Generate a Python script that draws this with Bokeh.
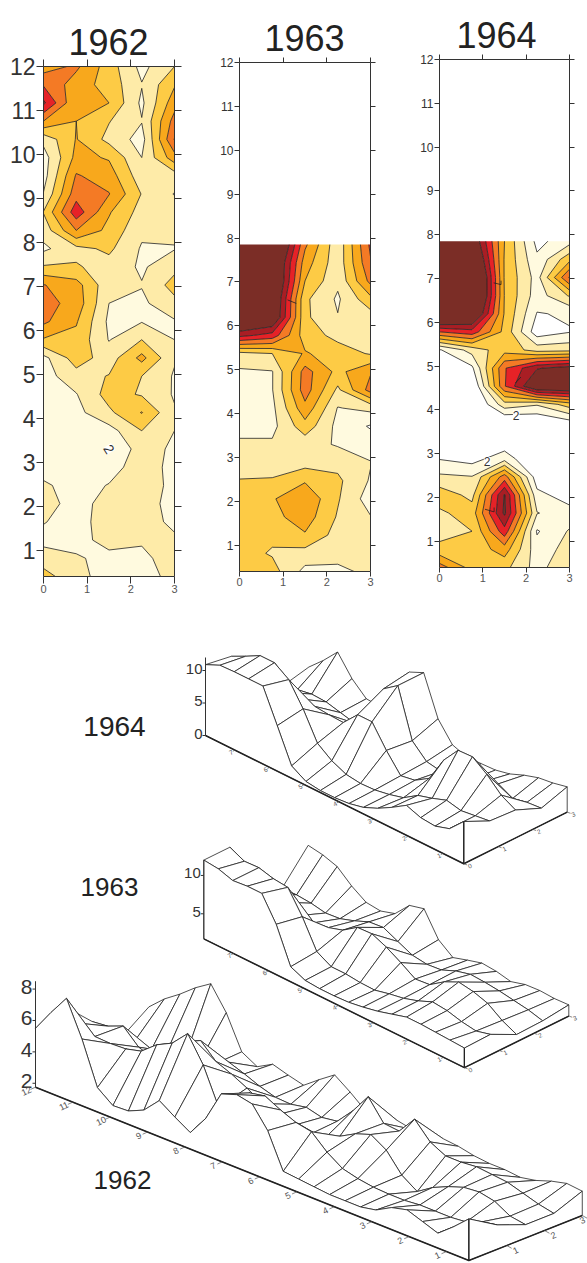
import numpy as np
from bokeh.embed import file_html
from bokeh.resources import INLINE
from bokeh.plotting import figure
from bokeh.layouts import column, row
from bokeh.models import LinearAxis, FixedTicker, Range1d, Label, Title
from bokeh.core.properties import value

X_GRID = [0, 0.75, 1.5, 2.25, 3]
Y_1962 = [0.4, 0.814, 1.229, 1.643, 2.057, 2.471, 2.886, 3.3, 3.714, 4.129, 4.543, 4.957, 5.371, 5.786, 6.2,
          6.614, 7.029, 7.443, 7.857, 8.271, 8.686, 9.1, 9.514, 9.929, 10.343, 10.757, 11.171, 11.586, 12.0]
Y_1963 = [0.4, 0.814, 1.228, 1.642, 2.056, 2.469, 2.883, 3.297, 3.711, 4.125, 4.539, 4.953, 5.367, 5.781,
          6.194, 6.608, 7.022, 7.436, 7.85]
Y_1964 = Y_1963

Z_1962 = [
    [4.4, 3.3, 2.6, 2.6, 3.3], [3.5, 3.1, 2.75, 2.8, 3.4], [2.7, 2.7, 3.3, 3.1, 3.15], [3.05, 2.6, 3.5, 3.4, 2.8],
    [3.4, 2.6, 3.4, 3.5, 2.6], [3.15, 2.6, 3.05, 3.6, 2.7], [2.6, 2.5, 2.6, 3.5, 2.7], [2.4, 2.5, 1.95, 3.5, 2.8],
    [2.4, 2.55, 2.6, 4.0, 3.0], [2.4, 2.7, 3.8, 5.05, 3.1], [2.5, 2.95, 4.4, 3.9, 2.9], [2.6, 3.6, 4.05, 4.0, 2.9],
    [2.7, 4.5, 3.5, 5.3, 3.1], [4.9, 4.7, 2.95, 4.0, 3.0], [6.2, 5.1, 2.8, 2.95, 2.9], [6.4, 5.6, 3.0, 2.8, 3.7],
    [6.05, 5.4, 3.3, 3.05, 4.4], [4.1, 4.1, 3.6, 2.85, 3.7], [2.8, 3.7, 4.2, 2.9, 2.95], [3.4, 6.0, 4.7, 3.2, 3.2],
    [4.05, 7.6, 5.1, 3.6, 3.5], [3.05, 6.6, 6.05, 3.95, 2.95], [2.6, 6.1, 5.5, 3.4, 3.5], [2.55, 5.3, 4.9, 3.0, 5.6],
    [3.3, 5.05, 3.7, 2.6, 7.05], [6.0, 5.0, 4.05, 3.05, 6.4], [8.2, 5.05, 5.0, 2.8, 5.6], [6.9, 5.5, 4.6, 3.05, 4.9],
    [5.5, 6.2, 4.5, 2.7, 4.0],
]
Z_1963 = [
    [4.3, 4.4, 2.7, 2.8, 3.2], [4.4, 3.9, 3.6, 3.3, 3.1], [4.5, 4.2, 4.9, 3.6, 3.2], [4.6, 4.7, 5.5, 3.9, 3.05],
    [4.6, 4.9, 5.8, 4.1, 2.5], [4.05, 4.1, 4.9, 4.2, 2.9], [3.5, 3.5, 3.6, 3.7, 3.05], [3.1, 3.15, 3.4, 2.9, 2.5],
    [2.8, 2.7, 4.6, 2.7, 1.9], [2.7, 2.75, 5.7, 2.95, 3.3], [2.7, 2.95, 6.5, 3.8, 6.4], [2.85, 2.95, 6.4, 4.7, 5.9],
    [3.7, 4.0, 5.1, 4.5, 3.9], [8.3, 7.6, 4.5, 3.7, 3.3], [11.4, 10.5, 4.2, 3.05, 3.5], [11.4, 10.7, 4.2, 2.85, 4.7],
    [11.2, 11.2, 5.0, 3.2, 6.3], [11.8, 11.1, 5.5, 3.35, 6.9], [12.0, 12.0, 6.2, 3.3, 7.2],
]
Z_1964 = [
    [6.5, 4.6, 4.3, 2.6, 3.9], [4.3, 4.3, 5.5, 2.4, 3.4], [3.6, 4.0, 7.6, 1.9, 3.1], [3.8, 4.5, 9.2, 3.05, 2.4],
    [4.6, 3.7, 9.1, 2.3, 1.5], [3.2, 3.05, 6.5, 1.4, 1.0], [1.95, 1.6, 2.6, 0.8, 0.9], [1.0, 1.0, 1.2, 0.6, 0.8],
    [0.5, 0.6, 0.8, 1.0, 1.6], [0.3, 0.5, 3.6, 3.1, 4.5], [0.3, 0.8, 6.9, 10.5, 10.5], [0.6, 1.8, 6.9, 8.9, 9.5],
    [1.9, 3.4, 4.6, 3.6, 3.7], [7.0, 7.6, 4.7, 1.4, 1.95], [12.0, 11.0, 4.9, 1.95, 2.1], [12.0, 12.5, 4.95, 2.5, 4.1],
    [12.0, 12.5, 4.9, 2.6, 7.1], [11.9, 11.3, 4.9, 2.2, 4.7], [10.9, 10.2, 5.0, 1.7, 2.6],
]

LEVELS = [2, 3, 4, 5, 6, 7, 8, 9, 20]
COLORS = ["#FFFADF", "#FEEBA8", "#FDCB45", "#F8A81C", "#F47A25", "#E62227", "#A91E24", "#7B2D26"]
XTICKS = [0, 1, 2, 3]
YTICKS = list(range(1, 13))
TITLES = ["1962", "1963", "1964"]
LABEL_STUBS_1963 = [([1.10, 1.30], [6.59, 6.51])]
LABEL_STUBS_1964 = [([1.25, 1.42, 1.42], [6.90, 6.86, 6.95]), ([1.75, 1.88], [4.61, 4.75]),
                    ([1.05, 1.26, 1.26], [1.73, 1.67, 1.77])]


def map_panel(xs, ys, zs, title, width, height, left, top, frame_w, frame_h, ysize, yout, labels, standoff, offset,
              stubs):
    p = figure(width=width, height=height, x_range=Range1d(0, 3), y_range=Range1d(0.4, 12),
               output_backend="svg", toolbar_location=None, min_border_left=left, min_border_top=top,
               min_border_right=width - left - frame_w, min_border_bottom=height - top - frame_h,
               frame_width=frame_w, frame_height=frame_h, outline_line_color=None)
    p.grid.visible = False
    p.contour(xs, ys, np.array(zs), LEVELS, fill_color=COLORS, line_color="#222222", line_width=0.8)
    if stubs:
        p.multi_line([s[0] for s in stubs], [s[1] for s in stubs], line_color="#222222", line_width=0.8)
    ax = p.xaxis[0]
    ax.ticker = FixedTicker(ticks=XTICKS)
    ay = p.yaxis[0]
    ay.ticker = FixedTicker(ticks=YTICKS)
    ax.major_label_text_font_size = "11px"
    ay.major_label_text_font_size = ysize
    ax.major_label_text_color = "#555555"
    ay.major_label_text_color = "#333333"
    ax.major_label_standoff = 1
    ay.major_label_standoff = 1
    right = LinearAxis(ticker=FixedTicker(ticks=YTICKS), major_label_overrides={t: "" for t in YTICKS})
    upper = LinearAxis(ticker=FixedTicker(ticks=XTICKS), major_label_overrides={t: "" for t in XTICKS})
    p.add_layout(right, "right")
    p.add_layout(upper, "above")
    for a in (ax, ay, right, upper):
        a.axis_line_color = "#333333"
        a.major_tick_line_color = "#333333"
        a.minor_tick_line_color = None
        a.major_tick_in = 0
        a.major_tick_out = yout
        a.major_label_text_font = "Liberation Sans"
    p.title = Title(text=title, text_font="Liberation Sans", text_font_size="36px", text_font_style="normal",
                    text_color="#222222", align="left", standoff=standoff, offset=offset)
    for lx, ly, ang, sz in labels:
        p.add_layout(Label(x=lx, y=ly, text="2", text_font="Liberation Sans", text_font_size=sz, angle=ang,
                           text_color="#333333", text_align="center", text_baseline="middle",
                           background_fill_color="white"))
    return p


f1 = map_panel(X_GRID, Y_1962, Z_1962, TITLES[0], 200, 600, 43, 66, 131, 510, "23px", 7,
               [(1.5, 3.3, -1.0, "14px")], 9, 25, [])
f2 = map_panel(X_GRID, Y_1963, Z_1963, TITLES[1], 205, 600, 39, 62, 131, 509, "12px", 5, [], 13, 25,
               LABEL_STUBS_1963)
f3 = map_panel(X_GRID, Y_1964, Z_1964, TITLES[2], 182, 600, 34, 59, 130, 508, "12px", 5,
               [(1.77, 3.88, 0, "12px"), (1.1, 2.82, 0, "12px")], 14, 17, LABEL_STUBS_1964)

p3 = figure(width=587, height=663, x_range=Range1d(0, 587), y_range=Range1d(1263, 600),
            output_backend="svg", toolbar_location=None, min_border=0, outline_line_color=None)
p3.axis.visible = False
p3.grid.visible = False
GRAY = "#555555"


def surface(xs, ys, zs, origin, ystep, xstep, zscale, zbase):
    xs = np.array(xs)
    ys = np.array(ys)
    zs = np.array(zs)
    ymax = ys.max()

    def proj(x, y, z):
        sx = origin[0] + ystep[0] * (ymax - y) + xstep[0] * x
        sy = origin[1] + ystep[1] * (ymax - y) + xstep[1] * x - zscale * (z - zbase)
        return sx, sy

    qx, qy = [], []
    for j in range(len(xs) - 2, -1, -1):
        for i in range(len(ys) - 2, -1, -1):
            c = [(j, i), (j + 1, i), (j + 1, i + 1), (j, i + 1)]
            pts = [proj(xs[a], ys[b], zs[b, a]) for a, b in c]
            qx.append([t[0] for t in pts])
            qy.append([t[1] for t in pts])
    p3.patches(qx, qy, fill_color="white", line_color="#222222", line_width=0.8)
    lw = [proj(0, y, zs[k, 0]) for k, y in enumerate(ys)] + [proj(0, ys[-1], zbase), proj(0, ys[0], zbase)]
    rw = [proj(x, ys[0], zs[0, k]) for k, x in enumerate(xs)] + [proj(3, ys[0], zbase), proj(0, ys[0], zbase)]
    p3.patches([[t[0] for t in lw], [t[0] for t in rw]], [[t[1] for t in lw], [t[1] for t in rw]],
               fill_color="white", line_color="#222222", line_width=0.8)
    a, b, c = proj(0, ymax, zbase), proj(0, ys[0], zbase), proj(3, ys[0], zbase)
    p3.line([a[0], b[0], c[0]], [a[1], b[1], c[1]], line_color="#222222", line_width=1.5)
    p3.line([b[0], b[0]], [b[1], proj(0, ys[0], zs[0, 0])[1]], line_color="#222222", line_width=1.2)
    return proj


def decorate(proj, ymax, ymin, zbase, zticks, ztop, yticks, xticks, zsize, tick_size, offy, offx):
    top = proj(0, ymax, ztop)
    foot = proj(0, ymax, zbase)
    p3.line([top[0], top[0]], [top[1], foot[1]], line_color="#333333", line_width=1)
    for label, z in zticks:
        s = proj(0, ymax, z)
        p3.line([s[0] - 3, s[0]], [s[1], s[1]], line_color="#333333", line_width=1)
        p3.text([s[0] - 3], [s[1] - 2], text=[label], text_font=value("Liberation Sans"),
                text_font_size=value(zsize), text_align="right", text_baseline="middle", text_color="#333333")
    for t in yticks:
        s = proj(0, t, zbase)
        p3.line([s[0], s[0] + offy[0] * 0.55], [s[1], s[1] + offy[1] * 0.55], line_color=GRAY, line_width=0.7)
        p3.text([s[0] + offy[0]], [s[1] + offy[1]], text=[str(t)], text_font=value("Liberation Sans"),
                text_font_size=value(tick_size), text_align="center", text_baseline="middle",
                text_color=GRAY, angle=0.45)
    for t in xticks:
        s = proj(t, ymin, zbase)
        p3.line([s[0], s[0] + offx[0] * 0.55], [s[1], s[1] + offx[1] * 0.55], line_color=GRAY, line_width=0.7)
        p3.text([min(s[0] + offx[0], 582)], [s[1] + offx[1]], text=[str(t)], text_font=value("Liberation Sans"),
                text_font_size=value(tick_size), text_align="center", text_baseline="middle",
                text_color=GRAY, angle=0.45)


pr64 = surface(X_GRID, Y_1964, Z_1964, (205, 735), (34.67, 17.22), (34.47, -17.2), 6.5, 0.0)
decorate(pr64, 7.85, 0.4, 0.0, [("0", 0), ("5", 5), ("10", 10)], 12, list(range(1, 8)), XTICKS,
         "15px", "6.5px", (-4, 2), (6, 2))
pr63 = surface(X_GRID, Y_1963, Z_1963, (203.3, 938.3), (34.98, 17.3), (34.8, -17.2), 7.67, 1.74)
decorate(pr63, 7.85, 0.4, 1.74, [("5", 5), ("10", 10)], 12, list(range(1, 8)), XTICKS,
         "15px", "6.5px", (-4, 2), (6, 2))
pr62 = surface(X_GRID, Y_1962, Z_1962, (35, 1086.7), (37.36, 14.94), (37.8, -15.0), 15.7, 1.75)
decorate(pr62, 12.0, 0.4, 1.75, [("2", 2), ("4", 4), ("6", 6), ("8", 8)], 8.5, list(range(1, 13)), [1, 2, 3],
         "21px", "9px", (-9, 4), (9, 5))

for txt, nx, ny, sz in [("1964", 114, 726, "28px"), ("1963", 109, 886, "26px"), ("1962", 122, 1179, "26px")]:
    p3.text([nx], [ny], text=[txt], text_font=value("Liberation Sans"), text_font_size=value(sz),
            text_align="center", text_baseline="middle", text_color="#222222")

layout = column(row(column(f1), column(f2), column(f3), spacing=0), p3, spacing=0)
open("out.html", "w").write(file_html(layout, INLINE))
